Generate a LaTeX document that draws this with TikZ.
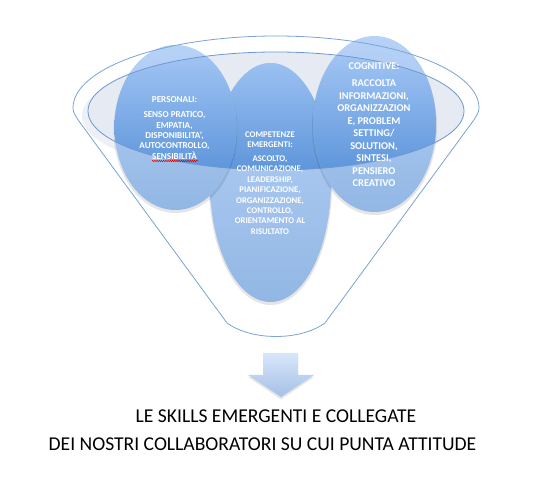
\documentclass[tikz,border=0pt]{standalone}
\usepackage{fontspec}
\setmainfont{Carlito}
\usetikzlibrary{decorations.pathmorphing}
\definecolor{rimblue}{HTML}{7BA3D6}
\definecolor{ellblue}{HTML}{6F98D0}
\definecolor{ellgray}{HTML}{E6EAF2}
\definecolor{ellshadow}{HTML}{EEF0F5}
\definecolor{ovaltop}{HTML}{B7D2F7}
\definecolor{ovalbot}{HTML}{92B7E4}
\definecolor{intop}{HTML}{A2C5F4}
\definecolor{inbot}{HTML}{5E96DB}
\definecolor{arrtop}{HTML}{D8E6FB}
\definecolor{arrbot}{HTML}{A5C0E6}
\tikzset{
  rim/.style={draw=rimblue, line width=0.8pt},
  ovalshadow/.style={fill=black, opacity=0.10},
  ovalbase/.style={top color=ovaltop, bottom color=ovalbot},
  ovaltext/.style={text=white, align=center, inner sep=0pt},
  captext/.style={text=black, font=\fontsize{19.6}{22}\selectfont, inner sep=0pt, anchor=base}
}
\newcommand{\innerell}{(276,111) ellipse [x radius=188, y radius=59]}
\begin{document}
\begin{tikzpicture}[x=1pt,y=-1pt]
\useasboundingbox (0,0) rectangle (536,478);
\fill[white] (0,0) rectangle (536,478);

% inner ellipse fill (with soft shadow)
\fill[ellshadow] (270,116) ellipse [x radius=188, y radius=59];
\fill[ellgray] \innerell;

% ovals: middle, left, right
\foreach \cx/\cy/\rx/\ry in {270.5/182.5/60.5/119.5, 175.5/127.5/61/82.5, 374.5/124/61.5/88}{
  \fill[ovalshadow] (\cx,\cy+2.5) ellipse [x radius=\rx+1, y radius=\ry+0.5];
  \shade[ovalbase] (\cx,\cy) ellipse [x radius=\rx, y radius=\ry];
  \begin{scope}
    \clip \innerell;
    \clip (\cx,\cy) ellipse [x radius=\rx, y radius=\ry];
    \shade[top color=intop, bottom color=inbot] (80,52) rectangle (472,170);
  \end{scope}
}

% inner ellipse outline
\draw[draw=ellblue, line width=0.8pt] \innerell;

% funnel outline
\draw[rim] (227,323) -- (84,128) .. controls (76,117) and (73,113) .. (73,108)
  .. controls (73,68.2) and (163.9,36) .. (276,36)
  .. controls (388.1,36) and (479,68.2) .. (479,108)
  .. controls (479,113) and (476,117) .. (468,128) -- (325,323)
  .. controls (300,341) and (252,341) .. (227,323);

% oval texts
\node[ovaltext, font=\bfseries\fontsize{9.1}{10.4}\selectfont] (pers) at (174.5,128)
  {PERSONALI:\\[4.5pt] SENSO PRATICO,\\ EMPATIA,\\ DISPONIBILITA’,\\ AUTOCONTROLLO,\\ SENSIBILITÀ};
\draw[red!85!black, line width=0.5pt, decorate, decoration={snake, amplitude=0.7pt, segment length=2.2pt}]
  (152,161) -- (198,161);
\node[ovaltext, font=\bfseries\fontsize{8.7}{10.4}\selectfont] (comp) at (270,183)
  {COMPETENZE\\ EMERGENTI:\\[3.5pt] ASCOLTO,\\ COMUNICAZIONE,\\ LEADERSHIP,\\ PIANIFICAZIONE,\\ ORGANIZZAZIONE,\\ CONTROLLO,\\ ORIENTAMENTO AL\\ RISULTATO};
\node[ovaltext, font=\bfseries\fontsize{10.4}{12.5}\selectfont] (cogn) at (374,125)
  {COGNITIVE:\\[4.5pt] RACCOLTA\\ INFORMAZIONI,\\ ORGANIZZAZION\\ E, PROBLEM\\ SETTING/\\ SOLUTION,\\ SINTESI,\\ PENSIERO\\ CREATIVO};

% down arrow
\fill[black, opacity=0.10] (263,355) -- (298,355) -- (298,377) -- (314,377) -- (281,399.5) -- (248,377) -- (263,377) -- cycle;
\shade[top color=arrtop, bottom color=arrbot] (263,353) -- (298,353) -- (298,375) -- (314,375) -- (281,397) -- (248,375) -- (263,375) -- cycle;

% caption
\node[captext] (cap1) at (276,423) {LE SKILLS EMERGENTI E COLLEGATE};
\node[captext] (cap2) at (262.5,450) {DEI NOSTRI COLLABORATORI SU CUI PUNTA ATTITUDE};
\end{tikzpicture}
\end{document}
